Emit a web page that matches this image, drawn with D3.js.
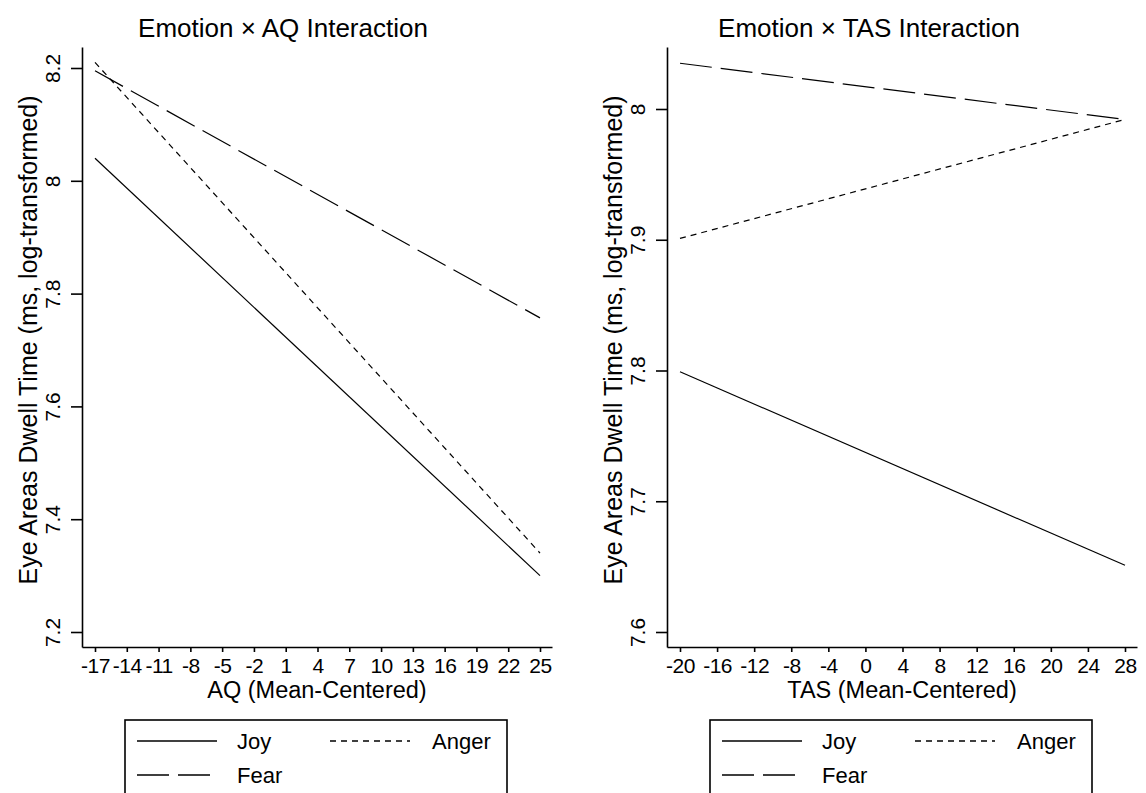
<!DOCTYPE html>
<html>
<head>
<meta charset="utf-8">
<script src="https://cdn.jsdelivr.net/npm/d3@7"></script>
<style>
  body { margin: 0; background: #fff; }
  svg { display: block; }
  text { font-family: "Liberation Sans", Arial, sans-serif; fill: #000; }
</style>
</head>
<body>
<script>
var aqEnds = [-17, 25];
var aqTicks = [-17, -14, -11, -8, -5, -2, 1, 4, 7, 10, 13, 16, 19, 22, 25];
var aqYTicks = [7.2, 7.4, 7.6, 7.8, 8, 8.2];
var aqJoy = [8.04, 7.30];
var aqAnger = [8.21, 7.34];
var aqFear = [8.195, 7.757];

var tasEnds = [-20, 28];
var tasTicks = [-20, -16, -12, -8, -4, 0, 4, 8, 12, 16, 20, 24, 28];
var tasYTicks = [7.6, 7.7, 7.8, 7.9, 8];
var tasJoy = [7.799, 7.651];
var tasAnger = [7.901, 7.992];
var tasFear = [8.035, 7.992];

var emotions = ["Joy", "Anger", "Fear"];
var dashes = { Joy: null, Anger: "6,5", Fear: "32,9" };

var svg = d3.select("body")
  .append("svg")
  .attr("width", 1146)
  .attr("height", 793);

function drawPanel(offset, p) {
  var g = svg.append("g").attr("transform", "translate(" + offset + ",0)");

  // scales pinned on the first/last tick, then stretched to the axis frame
  var x0 = d3.scaleLinear().domain([p.ticks[0], p.ticks[p.ticks.length - 1]]).range([95, 540]);
  var x = x0.copy().domain([x0.invert(82), x0.invert(552)]).range([82, 552]);
  var y0 = d3.scaleLinear().domain([p.yTicks[0], p.yTicks[p.yTicks.length - 1]]).range([632, p.yTop]);
  var y = y0.copy().domain([y0.invert(647), y0.invert(47)]).range([647, 47]);

  var xAxis = g.append("g")
    .attr("transform", "translate(0,647)")
    .call(d3.axisBottom(x).tickValues(p.ticks).tickSize(5).tickSizeOuter(0).tickFormat(function(d) { return String(d); }));
  xAxis.selectAll("text").attr("y", 11).attr("dy", "0.71em").style("font-size", "21px").style("letter-spacing", "-0.5px");

  var yAxis = g.append("g")
    .attr("transform", "translate(82,0)")
    .call(d3.axisLeft(y).tickValues(p.yTicks).tickSize(11).tickSizeOuter(0).tickFormat(function(d) { return String(+d.toFixed(1)); }));
  yAxis.selectAll("text")
    .attr("x", null).attr("dy", null)
    .attr("text-anchor", "middle")
    .attr("transform", "translate(-22,0) rotate(-90)")
    .style("font-size", "21px");

  g.selectAll(".domain, .tick line").attr("stroke", "#000").attr("stroke-width", 1.6);

  var line = d3.line().x(function(d) { return x(d[0]); }).y(function(d) { return y(d[1]); });
  emotions.forEach(function(e) {
    var pts = p.ends.map(function(v, i) { return [v, p.series[e][i]]; });
    g.append("path")
      .attr("d", line(pts))
      .attr("fill", "none")
      .attr("stroke", "#000")
      .attr("stroke-width", 1.2)
      .attr("stroke-dasharray", dashes[e]);
  });

  g.append("text")
    .attr("x", p.titleX).attr("y", 37)
    .attr("text-anchor", "middle")
    .style("font-size", "26px")
    .text(p.title);

  g.append("text")
    .attr("x", 317).attr("y", 698)
    .attr("text-anchor", "middle")
    .style("font-size", "23.5px")
    .text(p.xTitle);

  g.append("text")
    .attr("transform", "translate(37,340) rotate(-90)")
    .attr("text-anchor", "middle")
    .style("font-size", "25px")
    .text("Eye Areas Dwell Time (ms, log-transformed)");

  // legend, cut by the bottom of the figure
  var lg = g.append("g");
  lg.append("rect")
    .attr("x", 125).attr("y", 720)
    .attr("width", 382).attr("height", 120)
    .attr("fill", "none").attr("stroke", "#000").attr("stroke-width", 1.6);
  var items = [
    { e: "Joy", x: 137, y: 741 },
    { e: "Anger", x: 330, y: 741 },
    { e: "Fear", x: 137, y: 775 }
  ];
  items.forEach(function(it) {
    lg.append("line")
      .attr("x1", it.x).attr("x2", it.x + 80)
      .attr("y1", it.y).attr("y2", it.y)
      .attr("stroke", "#000").attr("stroke-width", 1.5)
      .attr("stroke-dasharray", dashes[it.e]);
    lg.append("text")
      .attr("x", it.e === "Anger" ? it.x + 102 : it.x + 100)
      .attr("y", it.y).attr("dy", "0.35em")
      .style("font-size", "22px")
      .text(it.e);
  });
}

drawPanel(0, {
  title: "Emotion \u00d7 AQ Interaction", titleX: 283,
  xTitle: "AQ (Mean-Centered)",
  ticks: aqTicks, yTicks: aqYTicks, yTop: 68, ends: aqEnds,
  series: { Joy: aqJoy, Anger: aqAnger, Fear: aqFear }
});

drawPanel(585, {
  title: "Emotion \u00d7 TAS Interaction", titleX: 284,
  xTitle: "TAS (Mean-Centered)",
  ticks: tasTicks, yTicks: tasYTicks, yTop: 109, ends: tasEnds,
  series: { Joy: tasJoy, Anger: tasAnger, Fear: tasFear }
});
</script>
</body>
</html>
